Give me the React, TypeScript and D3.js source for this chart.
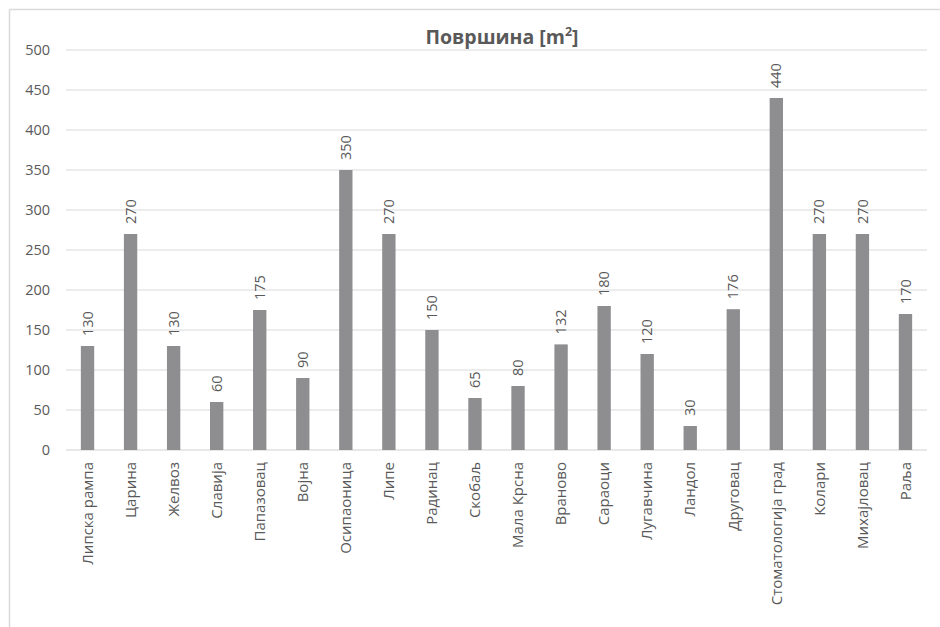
import React from "react";
import * as d3 from "d3";

const categories = [
  "Липска рампа", "Царина", "Желвоз", "Славија", "Папазовац", "Војна",
  "Осипаоница", "Липе", "Радинац", "Скобаљ", "Мала Крсна", "Враново",
  "Сараоци", "Лугавчина", "Ландол", "Друговац", "Стоматологија град",
  "Колари", "Михајловац", "Раља",
];
const areas = [130, 270, 130, 60, 175, 90, 350, 270, 150, 65, 80, 132, 180, 120, 30, 176, 440, 270, 270, 170];
const yTicks = [0, 50, 100, 150, 200, 250, 300, 350, 400, 450, 500];

const W = 940;
const H = 627;
const left = 66;
const right = 927;
const top = 50;
const bottom = 450;
const font = "'Open Sans', 'Noto Sans', sans-serif";
const textColor = "#595959";

export default function App() {
  const x = d3.scaleBand<string>().domain(categories).range([left, right]).paddingInner(0.69).paddingOuter(0.345);
  const y = d3.scaleLinear().domain([0, 500]).range([bottom, top]);

  return (
    <svg width={W} height={H} style={{ position: "absolute", left: 0, top: 0, background: "#fff" }}>
      {/* chart frame */}
      <line x1={9.5} y1={9.5} x2={W} y2={9.5} stroke="#d9d9d9" strokeWidth={1.5} />
      <line x1={9.5} y1={9.5} x2={9.5} y2={H} stroke="#d9d9d9" strokeWidth={1.5} />

      <text x={502} y={44} textAnchor="middle" fontFamily={font} fontWeight="bold" fontSize={19.5} fill={textColor}>
        Површина [m<tspan fontSize={12.5} dy={-8}>2</tspan><tspan dy={8}>]</tspan>
      </text>

      {yTicks.map((t) => (
        <g key={t}>
          <line x1={left} x2={right} y1={y(t)} y2={y(t)} stroke={t === 0 ? "#d0d0d0" : "#d9d9d9"} strokeWidth={1} />
          <text x={50} y={y(t)} dy="0.35em" textAnchor="end" fontFamily={font} fontSize={14.5} fill={textColor}>
            {t}
          </text>
        </g>
      ))}

      {categories.map((c, i) => {
        const bx = x(c) as number;
        const bw = x.bandwidth();
        const cx = bx + bw / 2;
        const v = areas[i];
        return (
          <g key={c}>
            <rect x={bx} y={y(v)} width={bw} height={y(0) - y(v)} fill="#8e8e91" />
            <text
              transform={`translate(${cx},${y(v) - 10}) rotate(-90)`}
              dy="0.35em"
              textAnchor="start"
              fontFamily={font}
              fontSize={14.5}
              fill={textColor}
            >
              {v}
            </text>
            <text
              transform={`translate(${cx},${bottom + 12}) rotate(-90)`}
              dy="0.35em"
              textAnchor="end"
              fontFamily={font}
              fontSize={15}
              fill={textColor}
            >
              {c}
            </text>
          </g>
        );
      })}
    </svg>
  );
}
